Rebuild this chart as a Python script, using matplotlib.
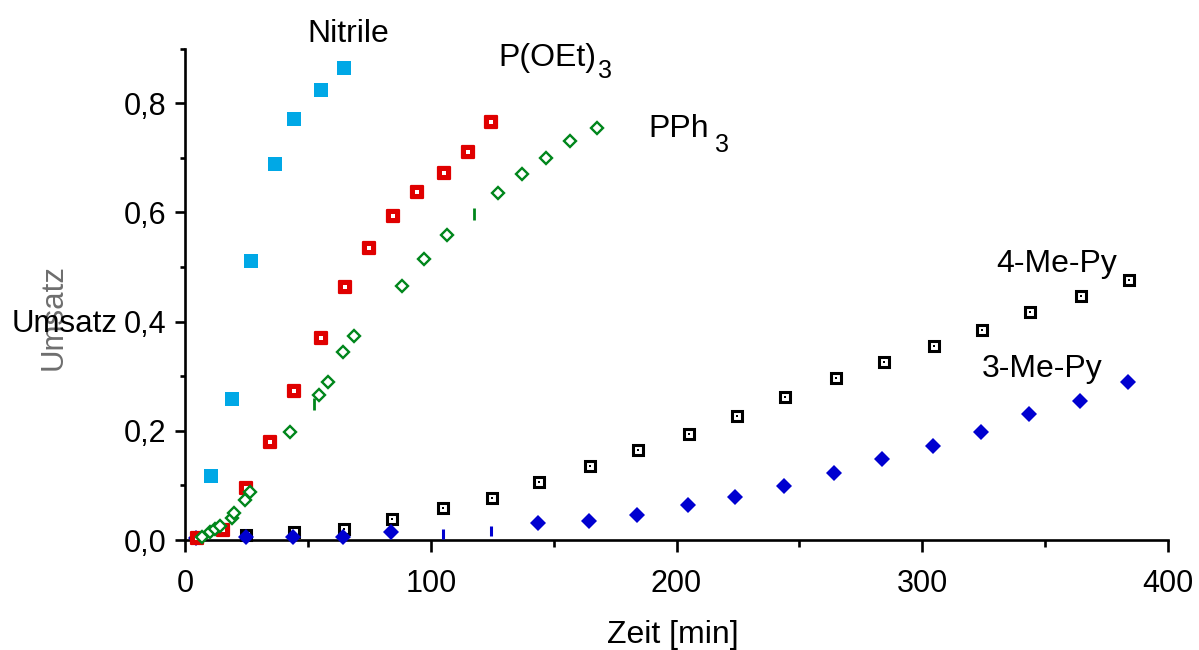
import matplotlib
matplotlib.use("Agg")
import matplotlib.pyplot as plt
from matplotlib.ticker import FixedLocator, FixedFormatter
from matplotlib.markers import MarkerStyle

plt.rcParams['font.family'] = ['Liberation Sans', 'DejaVu Sans']

# ---- data ----
nitrile_t = [10.7, 19.1, 26.9, 36.6, 44.4, 55.3, 64.7]
nitrile_u = [0.117, 0.258, 0.511, 0.689, 0.771, 0.824, 0.864]

poet_t = [5.0, 15.3, 24.8, 34.7, 44.4, 55.3, 65.0, 74.9, 84.5, 94.4, 105.3, 115.0, 124.6]
poet_u = [0.003, 0.018, 0.096, 0.179, 0.273, 0.370, 0.463, 0.535, 0.594, 0.638, 0.672, 0.711, 0.765]

pph3_t = [6.8, 10.2, 12.2, 14.2, 19.0, 20.1, 24.4, 26.4, 42.7, 54.6, 58.1, 64.4, 68.8,
          88.4, 97.1, 106.7, 127.5, 137.3, 146.9, 156.8, 167.7]
pph3_u = [0.006, 0.015, 0.021, 0.025, 0.041, 0.050, 0.074, 0.088, 0.197, 0.265, 0.290, 0.344, 0.373,
          0.465, 0.514, 0.559, 0.636, 0.670, 0.700, 0.731, 0.754]
pph3_partial_t = [52.5, 117.7]
pph3_partial_u = [0.249, 0.597]

me4_t = [24.7, 44.4, 64.8, 84.4, 105.1, 124.8, 144.2, 164.8, 184.5, 205.1, 224.6, 244.2,
         264.9, 284.3, 304.8, 324.4, 343.8, 364.6, 384.1]
me4_u = [0.010, 0.015, 0.020, 0.038, 0.058, 0.077, 0.107, 0.136, 0.165, 0.195, 0.228, 0.262,
         0.297, 0.326, 0.355, 0.385, 0.418, 0.447, 0.477]

me3_t = [4.5, 24.7, 44.1, 64.4, 83.9, 143.8, 164.4, 183.9, 204.6, 223.9, 243.6, 264.2,
         283.7, 304.4, 323.9, 343.4, 364.1, 383.6]
me3_u = [0.004, 0.006, 0.006, 0.006, 0.015, 0.031, 0.035, 0.045, 0.065, 0.079, 0.099, 0.123,
         0.148, 0.172, 0.197, 0.231, 0.255, 0.289]
me3_partial_t = [104.9, 124.4]
me3_partial_u = [0.011, 0.016]

x_major = [0, 100, 200, 300, 400]
x_major_labels = ['0', '100', '200', '300', '400']
x_minor = [50, 150, 250, 350]
y_major = [0.0, 0.2, 0.4, 0.6, 0.8]
y_major_labels = ['0,0', '0,2', '0,4', '0,6', '0,8']
y_minor = [0.1, 0.3, 0.5, 0.7, 0.9]

W, H = 1199, 650
fig = plt.figure(figsize=(W / 100, H / 100), dpi=100)
ax = fig.add_axes([185 / W, 1 - 540 / H, (1168 - 185) / W, (540 - 48.6) / H])
ax.set_xlim(0, 400)
ax.set_ylim(0, 0.9)

for s in ['top', 'right']:
    ax.spines[s].set_visible(False)
for s in ['left', 'bottom']:
    ax.spines[s].set_linewidth(1.9)
    ax.spines[s].set_zorder(2.5)

ax.xaxis.set_major_locator(FixedLocator(x_major))
ax.xaxis.set_major_formatter(FixedFormatter(x_major_labels))
ax.xaxis.set_minor_locator(FixedLocator(x_minor))
ax.yaxis.set_major_locator(FixedLocator(y_major))
ax.yaxis.set_major_formatter(FixedFormatter(y_major_labels))
ax.yaxis.set_minor_locator(FixedLocator(y_minor))

ax.tick_params(axis='x', which='major', length=8.6, width=1.9, pad=12, labelsize=22, direction='out')
ax.tick_params(axis='x', which='minor', length=5, width=1.9, direction='out')
ax.tick_params(axis='y', which='major', length=7.2, width=1.9, pad=6, labelsize=22, direction='out')
ax.tick_params(axis='y', which='minor', length=3.5, width=1.9, direction='out')

common = dict(linestyle='none', clip_on=False)

# Nitrile
ax.plot(nitrile_t, nitrile_u, marker='s', ms=9.8, mew=0, color='#00a8e6', zorder=3, **common)
# 4-Me-Py
ax.plot(me4_t, me4_u, marker='s', ms=7.3, mew=2.2, mfc='white', mec='black', zorder=3.1, **common)
ax.plot(me4_t, me4_u, marker='s', ms=1.6, mew=0, color='black', zorder=3.15, **common)
# 3-Me-Py
ax.plot(me3_t, me3_u, marker='D', ms=8.0, mew=0, color='#0000d0', zorder=3.2, **common)
ax.plot(me3_partial_t, me3_partial_u, marker='|', ms=7.5, mew=2.2, color='#0000d0', zorder=3.2, **common)
# P(OEt)3
ax.plot(poet_t, poet_u, marker=MarkerStyle('s', joinstyle='round'), ms=8.5, mew=1.6,
        mfc='#e00000', mec='#e00000', zorder=3.3, **common)
ax.plot(poet_t, poet_u, marker='s', ms=2.4, mew=0, color='white', zorder=3.35, **common)
# PPh3
ax.plot(pph3_t, pph3_u, marker='D', ms=6.4, mew=1.7, mfc='white', mec='#00861b', zorder=3.4, **common)
ax.plot(pph3_partial_t, pph3_partial_u, marker='|', ms=8, mew=2.0, color='#00861b', zorder=3.4, **common)


def ftext(x, y, s, **kw):
    fig.text(x / W, 1 - y / H, s, **kw)


lab = dict(fontsize=23, ha='left', va='baseline', color='black')
ftext(307, 42, 'Nitrile', **lab)
ftext(498, 66, 'P(OEt)', **lab)
ftext(598, 78, '3', fontsize=18, ha='left', va='baseline')
ftext(648, 137, 'PPh', **lab)
ftext(715, 152, '3', fontsize=18, ha='left', va='baseline')
ftext(996, 272, '4-Me-Py', **lab)
ftext(982, 377, '3-Me-Py', **lab)

# axis titles
ftext(53.5, 317, 'Umsatz', fontsize=22.5, rotation=90, ha='center', va='center', color='#6e6e6e')
ftext(12, 332, 'Umsatz', fontsize=22.5, ha='left', va='baseline', color='black')
ftext(607, 643, 'Zeit [min]', **lab)

fig.savefig('out.png', dpi=100)
